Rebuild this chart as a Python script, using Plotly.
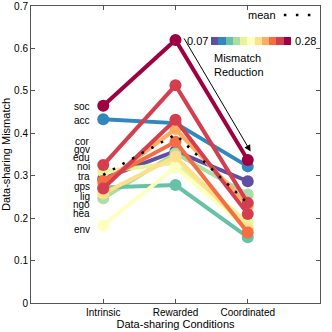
import plotly.graph_objects as go

# data
conditions = ["Intrinsic", "Rewarded", "Coordinated"]
labels = ["soc", "acc", "cor", "gov", "edu", "noi", "tra", "gps", "lig", "ngo", "hea", "env"]
intrinsic = [0.465, 0.433, 0.325, 0.31, 0.293, 0.288, 0.282, 0.27, 0.272, 0.258, 0.247, 0.183]
rewarded = [0.62, 0.424, 0.513, 0.33, 0.358, 0.38, 0.41, 0.432, 0.278, 0.345, 0.353, 0.32]
coordinated = [0.337, 0.322, 0.236, 0.19, 0.287, 0.166, 0.23, 0.21, 0.155, 0.175, 0.256, 0.175]
mean_values = [0.302, 0.397, 0.235]
reduction_range = [0.07, 0.28]

# styles
spectral = ["#5e4fa2", "#3288bd", "#66c2a5", "#abdda4", "#e6f598", "#ffffbf",
            "#fee08b", "#fdae61", "#f46d43", "#d53e4f", "#9e0142"]
line_colors = {"soc": "#9e0142", "acc": "#3288bd", "cor": "#d53e4f", "gov": "#e6f598",
               "edu": "#5e4fa2", "noi": "#f46d43", "tra": "#fdae61", "gps": "#d53e4f",
               "lig": "#66c2a5", "ngo": "#fee08b", "hea": "#abdda4", "env": "#ffffbf"}
label_y = [0.464, 0.429, 0.381, 0.362, 0.342, 0.321, 0.298, 0.275, 0.252, 0.231, 0.21, 0.174]

FONT = "Liberation Sans, Arial, sans-serif"

fig = go.Figure()

# draw lines with the largest reduction on top
order = sorted(range(len(labels)), key=lambda i: rewarded[i] - coordinated[i])
for i in order:
    fig.add_trace(go.Scatter(
        x=[1, 2, 3],
        y=[intrinsic[i], rewarded[i], coordinated[i]],
        mode="lines+markers",
        line=dict(color=line_colors[labels[i]], width=4),
        marker=dict(color=line_colors[labels[i]], size=12),
        showlegend=False, hoverinfo="skip",
    ))

# mean
fig.add_trace(go.Scatter(
    x=[1, 2, 3], y=mean_values, mode="lines",
    line=dict(color="black", width=2.5, dash="2.5px,8.5px"),
    showlegend=False, hoverinfo="skip",
))

# colorbar holder
scale = []
for k, c in enumerate(spectral):
    scale.append([k / len(spectral), c])
    scale.append([(k + 1) / len(spectral), c])
fig.add_trace(go.Scatter(
    x=[None, None], y=[None, None], mode="markers",
    marker=dict(color=reduction_range, cmin=reduction_range[0], cmax=reduction_range[1],
                colorscale=scale, showscale=True,
                colorbar=dict(orientation="h", x=0.761, xanchor="center", y=0.883,
                              yanchor="middle", len=80, lenmode="pixels", thickness=8,
                              xpad=0, ypad=0,
                              showticklabels=False, outlinewidth=0, ticks="")),
    showlegend=False, hoverinfo="skip",
))

# category labels at the left
for lab, ly in zip(labels, label_y):
    fig.add_annotation(x=0.84, y=ly, xref="x", yref="y", text=lab, showarrow=False,
                       xanchor="right", yanchor="middle",
                       font=dict(family=FONT, size=10, color="black"))

# arrow
fig.add_annotation(x=3.04, y=0.357, ax=2.107, ay=0.627, xref="x", yref="y",
                   axref="x", ayref="y", text="", showarrow=True,
                   arrowhead=2, arrowsize=1.3, arrowwidth=1, arrowcolor="black")

# colorbar texts
fig.add_annotation(x=0.619, y=0.883, xref="paper", yref="paper", text="0.07",
                   showarrow=False, xanchor="right", yanchor="middle",
                   font=dict(family=FONT, size=11, color="black"))
fig.add_annotation(x=0.907, y=0.883, xref="paper", yref="paper", text="0.28",
                   showarrow=False, xanchor="left", yanchor="middle",
                   font=dict(family=FONT, size=11, color="black"))
fig.add_annotation(x=0.628, y=0.8, xref="paper", yref="paper",
                   text="Mismatch<br>Reduction", showarrow=False,
                   xanchor="left", yanchor="middle", align="left",
                   font=dict(family=FONT, size=11, color="black"))

# mean key
fig.add_annotation(x=0.855, y=0.97, xref="paper", yref="paper", text="mean",
                   showarrow=False, xanchor="right", yanchor="middle",
                   font=dict(family=FONT, size=11, color="black"))
fig.add_shape(type="line", xref="paper", yref="paper", x0=0.875, x1=0.97,
              y0=0.97, y1=0.97, line=dict(color="black", width=2.5, dash="2.5px,9.5px"))

axis_style = dict(showline=True, linecolor="#555555", linewidth=1, mirror="ticks",
                  ticks="inside", ticklen=4, tickcolor="#555555", showgrid=False,
                  zeroline=False, automargin=False,
                  tickfont=dict(family=FONT, size=10, color="black"))

fig.update_layout(
    width=332, height=332,
    margin=dict(l=31, r=12, t=6, b=29),
    plot_bgcolor="white", paper_bgcolor="white",
    xaxis=dict(range=[0, 4], tickvals=[1, 2, 3], ticktext=conditions,
               title=dict(text="Data-sharing Conditions", standoff=1,
                          font=dict(family=FONT, size=11, color="black")),
               **axis_style),
    yaxis=dict(range=[0, 0.7], dtick=0.1,
               title=dict(text="Data-sharing Mismatch", standoff=3,
                          font=dict(family=FONT, size=11, color="black")),
               **axis_style),
)

# drop the browser's default page margin so the figure sits at the top-left corner
fig.write_html("out.html", config={"displayModeBar": False},
               post_script="document.body.style.margin='0';")
